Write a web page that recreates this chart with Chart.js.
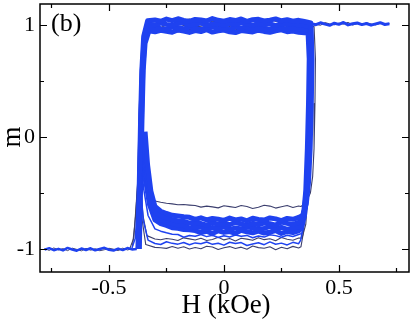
<!DOCTYPE html>
<html lang="en">
<head>
<meta charset="UTF-8">
<title>m vs H loops (b)</title>
<script src="https://cdn.jsdelivr.net/npm/chart.js@4.4.1"></script>
<style>
  html,body{margin:0;padding:0;background:#fff;}
  .wrap{position:relative;width:415px;height:323px;}
</style>
</head>
<body>
<div class="wrap"><canvas id="c"></canvas></div>
<script>
// axis ticks
const X_MAJOR=[-0.5,0,0.5], X_MINOR=[-0.75,-0.25,0.25,0.75];
const Y_MAJOR=[-1,0,1], Y_MINOR=[-0.5,0.5];

// shared field grids
const TOP_H=[-0.300,-0.275,-0.250,-0.225,-0.200,-0.175,-0.150,-0.125,-0.100,-0.075,-0.050,-0.025,0.000,0.025,0.050,0.075,0.100,0.125,0.150,0.175,0.200,0.225,0.250,0.275,0.300,0.325,0.350];
const BOT_H=[0.325,0.300,0.275,0.250,0.225,0.200,0.175,0.150,0.125,0.100,0.075,0.050,0.025,0.000,-0.025,-0.050,-0.075,-0.100,-0.125,-0.150,-0.175,-0.200,-0.225,-0.250,-0.275];
const LEFT_H=[-0.78,-0.76,-0.74,-0.72,-0.70,-0.68,-0.66,-0.64,-0.62,-0.60,-0.58,-0.56,-0.54,-0.52,-0.50,-0.48,-0.46,-0.44,-0.42,-0.40,-0.38];
const RIGHT_H=[0.38,0.40,0.42,0.44,0.46,0.48,0.50,0.52,0.54,0.56,0.58,0.60,0.62,0.64,0.66,0.68,0.70,0.72];

// saturated plateaus
const leftBlue=[-1.005,-0.992,-1.010,-0.998,-1.012,-0.990,-1.004,-1.015,-0.995,-1.008,-0.993,-1.011,-1.000,-0.989,-1.006,-1.013,-0.996,-1.009,-0.991,-1.003,-1.000];
const leftDark=[-0.995,-1.012,-0.990,-1.008,-0.996,-1.014,-0.992,-1.003,-1.016,-0.994,-1.010,-0.997,-1.015,-1.006,-0.993,-1.001,-1.014,-0.992,-1.008,-0.998,-1.005];
const rightBlue=[1.015,1.005,1.022,1.010,1.000,1.018,1.008,1.025,1.003,1.014,1.020,1.006,1.016,1.001,1.012,1.023,1.007,1.013];
const rightDark=[1.020,1.008,1.000,1.024,1.012,1.004,1.019,1.010,1.026,1.002,1.015,1.008,1.021,1.011,1.003,1.018,1.009,1.016];

// blue loop 1
const b1RiseH=[-0.374,-0.370,-0.366,-0.362,-0.357,-0.349,-0.332];
const b1RiseM=[-1.00,-0.60,-0.20,0.20,0.60,0.90,1.04];
const b1Top=[1.048,1.036,1.055,1.041,1.058,1.043,1.034,1.052,1.047,1.038,1.060,1.044,1.037,1.051,1.042,1.056,1.035,1.049,1.053,1.039,1.046,1.057,1.040,1.050,1.036,1.044,1.033];
const b1FallH=[0.378,0.383,0.380,0.375,0.368,0.358,0.342];
const b1FallM=[1.02,0.70,0.30,-0.10,-0.40,-0.60,-0.70];
const b1Bot=[-0.718,-0.734,-0.726,-0.745,-0.730,-0.722,-0.741,-0.736,-0.725,-0.748,-0.731,-0.739,-0.723,-0.744,-0.733,-0.727,-0.740,-0.721,-0.735,-0.716,-0.712,-0.705,-0.698,-0.682,-0.662];
const b1CurlH=[-0.300,-0.318,-0.332,-0.343];
const b1CurlM=[-0.620,-0.480,-0.250,0.050];
// blue loop 2
const b2RiseH=[-0.372,-0.368,-0.364,-0.360,-0.355,-0.347,-0.330];
const b2RiseM=[-1.00,-0.60,-0.20,0.20,0.60,0.88,1.01];
const b2Top=[1.004,1.019,1.008,0.999,1.016,1.022,1.003,1.011,1.020,1.001,1.009,1.017,0.998,1.014,1.006,1.021,1.010,1.000,1.018,1.005,1.013,0.997,1.015,1.007,1.019,1.002,0.998];
const b2FallH=[0.374,0.379,0.376,0.371,0.364,0.354,0.338];
const b2FallM=[0.99,0.70,0.30,-0.10,-0.42,-0.63,-0.74];
const b2Bot=[-0.762,-0.781,-0.770,-0.758,-0.786,-0.773,-0.766,-0.784,-0.769,-0.790,-0.776,-0.761,-0.783,-0.771,-0.779,-0.764,-0.787,-0.772,-0.760,-0.768,-0.752,-0.749,-0.737,-0.721,-0.702];
const b2CurlH=[-0.300,-0.320,-0.335,-0.346];
const b2CurlM=[-0.660,-0.520,-0.300,0.000];
// blue loop 3
const b3RiseH=[-0.370,-0.366,-0.362,-0.358,-0.353,-0.345,-0.328];
const b3RiseM=[-1.00,-0.60,-0.20,0.20,0.60,0.86,0.975];
const b3Top=[0.982,0.970,0.965,0.986,0.976,0.968,0.984,0.973,0.962,0.980,0.988,0.969,0.977,0.964,0.983,0.972,0.987,0.966,0.979,0.971,0.963,0.985,0.974,0.967,0.981,0.970,0.962];
const b3FallH=[0.370,0.375,0.372,0.367,0.360,0.350,0.335];
const b3FallM=[0.96,0.70,0.30,-0.10,-0.45,-0.66,-0.78];
const b3Bot=[-0.801,-0.812,-0.824,-0.806,-0.818,-0.797,-0.815,-0.827,-0.809,-0.803,-0.821,-0.811,-0.826,-0.800,-0.817,-0.808,-0.822,-0.805,-0.798,-0.813,-0.790,-0.784,-0.770,-0.758,-0.736];
const b3CurlH=[-0.300,-0.322,-0.338,-0.350];
const b3CurlM=[-0.700,-0.560,-0.340,-0.050];
// blue loop 4
const b4RiseH=[-0.368,-0.364,-0.360,-0.356,-0.351,-0.343,-0.326];
const b4RiseM=[-1.00,-0.60,-0.20,0.20,0.60,0.84,0.95];
const b4Top=[0.941,0.955,0.946,0.938,0.958,0.949,0.936,0.952,0.944,0.960,0.939,0.950,0.957,0.942,0.935,0.953,0.947,0.940,0.956,0.945,0.937,0.951,0.959,0.943,0.948,0.938,0.934];
const b4FallH=[0.366,0.371,0.368,0.363,0.356,0.346,0.332];
const b4FallM=[0.93,0.70,0.30,-0.10,-0.48,-0.70,-0.82];
const b4Bot=[-0.838,-0.852,-0.843,-0.861,-0.834,-0.849,-0.857,-0.840,-0.855,-0.846,-0.832,-0.859,-0.844,-0.851,-0.837,-0.862,-0.841,-0.853,-0.835,-0.828,-0.826,-0.815,-0.809,-0.788,-0.772];
const b4CurlH=[-0.300,-0.324,-0.341,-0.353];
const b4CurlM=[-0.740,-0.600,-0.380,-0.100];

// thin blue return branches
const t1FallH=[0.385,0.388,0.384,0.378,0.370,0.358,0.340];
const t1FallM=[1.00,0.70,0.30,-0.10,-0.45,-0.70,-0.86];
const t1Bot=[-0.870,-0.888,-0.876,-0.895,-0.880,-0.872,-0.893,-0.884,-0.899,-0.878,-0.886,-0.874,-0.892,-0.881,-0.897,-0.877,-0.889,-0.871,-0.885,-0.879,-0.894,-0.870,-0.868,-0.855,-0.840];
const t1CurlH=[-0.300,-0.330,-0.350,-0.362];
const t1CurlM=[-0.820,-0.700,-0.450,-0.100];
const t2FallH=[0.372,0.376,0.372,0.366,0.358,0.348,0.334];
const t2FallM=[0.98,0.70,0.30,-0.10,-0.50,-0.76,-0.92];
const t2Bot=[-0.952,-0.940,-0.963,-0.947,-0.957,-0.936,-0.961,-0.944,-0.954,-0.968,-0.942,-0.950,-0.939,-0.965,-0.948,-0.958,-0.937,-0.953,-0.945,-0.962,-0.941,-0.956,-0.949,-0.935,-0.959];
const t2CurlH=[-0.300,-0.330,-0.350,-0.365,-0.375,-0.385,-0.400];
const t2CurlM=[-0.950,-0.920,-0.750,-0.400,-0.550,-0.900,-0.990];

// dark loop 1
const d1RiseH=[-0.380,-0.377,-0.373,-0.369,-0.363,-0.352,-0.334];
const d1RiseM=[-1.00,-0.60,-0.20,0.20,0.60,0.88,0.99];
const d1Top=[0.995,0.980,1.002,0.988,0.975,0.998,1.006,0.984,0.992,1.004,0.979,0.987,1.000,0.990,1.008,0.982,0.996,0.986,0.974,0.997,1.003,0.983,0.991,0.996,0.981,0.977,0.972];
const d1FallH=[0.392,0.398,0.396,0.392,0.386,0.376,0.355,0.335];
const d1FallM=[0.99,0.70,0.30,-0.10,-0.35,-0.50,-0.59,-0.62];
const d1Bot=[-0.615,-0.628,-0.610,-0.622,-0.634,-0.616,-0.608,-0.626,-0.637,-0.619,-0.611,-0.629,-0.621,-0.613,-0.632,-0.623,-0.616,-0.625,-0.611,-0.607,-0.602,-0.604,-0.596,-0.590,-0.582];
const d1CurlH=[-0.300,-0.318,-0.333,-0.345,-0.355];
const d1CurlM=[-0.570,-0.530,-0.430,-0.250,0.000];
// dark loop 2
const d2RiseH=[-0.371,-0.367,-0.363,-0.359,-0.354,-0.346,-0.329];
const d2RiseM=[-1.00,-0.60,-0.20,0.20,0.60,0.85,0.955];
const d2Top=[0.958,0.944,0.962,0.950,0.940,0.957,0.965,0.946,0.953,0.963,0.943,0.949,0.959,0.951,0.966,0.945,0.956,0.950,0.941,0.958,0.961,0.947,0.953,0.957,0.946,0.942,0.938];
const d2FallH=[0.372,0.378,0.376,0.372,0.366,0.356,0.340];
const d2FallM=[0.97,0.70,0.30,-0.10,-0.50,-0.78,-0.90];
const d2Bot=[-0.902,-0.921,-0.913,-0.897,-0.925,-0.908,-0.916,-0.899,-0.922,-0.911,-0.904,-0.927,-0.906,-0.918,-0.895,-0.914,-0.923,-0.903,-0.919,-0.909,-0.900,-0.924,-0.912,-0.905,-0.917];
const d2CurlH=[-0.300,-0.335,-0.352,-0.365,-0.372,-0.380,-0.392,-0.410];
const d2CurlM=[-0.910,-0.880,-0.700,-0.380,-0.300,-0.550,-0.900,-1.000];
// dark loop 3
const d3RiseH=[-0.376,-0.372,-0.368,-0.364,-0.358,-0.350,-0.331];
const d3RiseM=[-1.00,-0.60,-0.20,0.20,0.60,0.90,1.04];
const d3Top=[1.045,1.030,1.052,1.038,1.027,1.047,1.055,1.034,1.042,1.053,1.031,1.037,1.049,1.040,1.057,1.033,1.046,1.039,1.028,1.048,1.051,1.035,1.043,1.047,1.032,1.029,1.025];
const d3FallH=[0.360,0.366,0.364,0.360,0.354,0.346,0.335];
const d3FallM=[1.00,0.70,0.30,-0.10,-0.55,-0.85,-0.98];
const d3Bot=[-0.990,-0.976,-0.998,-0.984,-1.006,-0.979,-0.993,-0.987,-0.972,-1.001,-0.983,-0.995,-0.978,-0.989,-1.004,-0.981,-0.975,-0.997,-0.986,-0.999,-0.980,-0.992,-0.977,-0.994,-0.988];
const d3CurlH=[-0.300,-0.340,-0.355,-0.366,-0.374,-0.384,-0.398];
const d3CurlM=[-0.985,-0.960,-0.750,-0.450,-0.380,-0.700,-0.980];

const BLUE='#1f42f0', DARK='#3c3f6e';

function pts(hs,ms){return hs.map((h,i)=>({x:h,y:ms[i]}))}
function path(...parts){return parts.flat()}
function ds(data,color,w){return{data,borderColor:color,borderWidth:w,pointRadius:0,tension:0,showLine:true,borderJoinStyle:'round',fill:false}}

const datasets=[
  ds(path(pts(b1RiseH,b1RiseM),pts(TOP_H,b1Top),pts(b1FallH,b1FallM),pts(BOT_H,b1Bot),pts(b1CurlH,b1CurlM)),BLUE,5),
  ds(path(pts(b2RiseH,b2RiseM),pts(TOP_H,b2Top),pts(b2FallH,b2FallM),pts(BOT_H,b2Bot),pts(b2CurlH,b2CurlM)),BLUE,5),
  ds(path(pts(b3RiseH,b3RiseM),pts(TOP_H,b3Top),pts(b3FallH,b3FallM),pts(BOT_H,b3Bot),pts(b3CurlH,b3CurlM)),BLUE,5),
  ds(path(pts(b4RiseH,b4RiseM),pts(TOP_H,b4Top),pts(b4FallH,b4FallM),pts(BOT_H,b4Bot),pts(b4CurlH,b4CurlM)),BLUE,5),
  ds(path(pts(t1FallH,t1FallM),pts(BOT_H,t1Bot),pts(t1CurlH,t1CurlM)),BLUE,1.5),
  ds(path(pts(t2FallH,t2FallM),pts(BOT_H,t2Bot),pts(t2CurlH,t2CurlM)),BLUE,1.5),
  ds(pts(LEFT_H,leftBlue),BLUE,2.5),
  ds(pts(RIGHT_H,rightBlue),BLUE,3),
  ds(path(pts(d1RiseH,d1RiseM),pts(TOP_H,d1Top),pts(d1FallH,d1FallM),pts(BOT_H,d1Bot),pts(d1CurlH,d1CurlM)),DARK,1.1),
  ds(path(pts(d2RiseH,d2RiseM),pts(TOP_H,d2Top),pts(d2FallH,d2FallM),pts(BOT_H,d2Bot),pts(d2CurlH,d2CurlM)),DARK,1.1),
  ds(path(pts(d3RiseH,d3RiseM),pts(TOP_H,d3Top),pts(d3FallH,d3FallM),pts(BOT_H,d3Bot),pts(d3CurlH,d3CurlM)),DARK,1.1),
  ds(pts(LEFT_H,leftDark),DARK,1),
  ds(pts(RIGHT_H,rightDark),DARK,1)
];

// frame, inward ticks and texts
const frame={id:'frame',afterDraw(ch){
  const {ctx,chartArea:a,scales:{x,y}}=ch;
  ctx.save();
  ctx.strokeStyle='#000';ctx.lineWidth=1.5;
  ctx.strokeRect(a.left,a.top,a.right-a.left,a.bottom-a.top);
  ctx.lineWidth=1.2;ctx.beginPath();
  const xt=(v,l)=>{const p=Math.round(x.getPixelForValue(v))+0.5;ctx.moveTo(p,a.bottom);ctx.lineTo(p,a.bottom-l);ctx.moveTo(p,a.top);ctx.lineTo(p,a.top+l)};
  const yt=(v,l)=>{const p=Math.round(y.getPixelForValue(v))+0.5;ctx.moveTo(a.left,p);ctx.lineTo(a.left+l,p);ctx.moveTo(a.right,p);ctx.lineTo(a.right-l,p)};
  X_MAJOR.forEach(v=>xt(v,7));X_MINOR.forEach(v=>xt(v,4));
  Y_MAJOR.forEach(v=>yt(v,7));Y_MINOR.forEach(v=>yt(v,4));
  ctx.stroke();
  ctx.fillStyle='#000';
  ctx.font='27px "Liberation Serif"';ctx.textAlign='center';ctx.textBaseline='middle';
  ctx.fillText('H (kOe)',226,306);
  ctx.save();ctx.translate(13,137);ctx.rotate(-Math.PI/2);ctx.fillText('m',0,0);ctx.restore();
  ctx.font='26px "Liberation Serif"';ctx.textAlign='left';ctx.textBaseline='alphabetic';
  ctx.fillText('(b)',51,31);
  ctx.restore();
}};

const tickFont={family:'"Liberation Serif"',size:22};
new Chart(document.getElementById('c'),{
  type:'scatter',
  data:{datasets},
  options:{
    responsive:true,maintainAspectRatio:false,animation:false,
    layout:{padding:{top:4,right:6,left:0,bottom:0}},
    plugins:{legend:{display:false},tooltip:{enabled:false}},
    scales:{
      x:{type:'linear',min:-0.8,max:0.805,
        grid:{display:false,drawTicks:false},border:{display:false},
        ticks:{stepSize:0.5,includeBounds:false,color:'#000',font:tickFont,padding:3,maxRotation:0,
          callback:v=>X_MAJOR.includes(v)?String(v):''},
        afterFit:s=>{s.height=51;s.paddingLeft=0;s.paddingRight=0}},
      y:{type:'linear',min:-1.205,max:1.19,
        grid:{display:false,drawTicks:false},border:{display:false},
        ticks:{stepSize:1,includeBounds:false,color:'#000',font:tickFont,padding:5,
          callback:v=>Y_MAJOR.includes(v)?String(v):''},
        afterFit:s=>{s.width=40;s.paddingTop=0;s.paddingBottom=0}}
    }
  },
  plugins:[frame]
});
</script>
</body>
</html>
